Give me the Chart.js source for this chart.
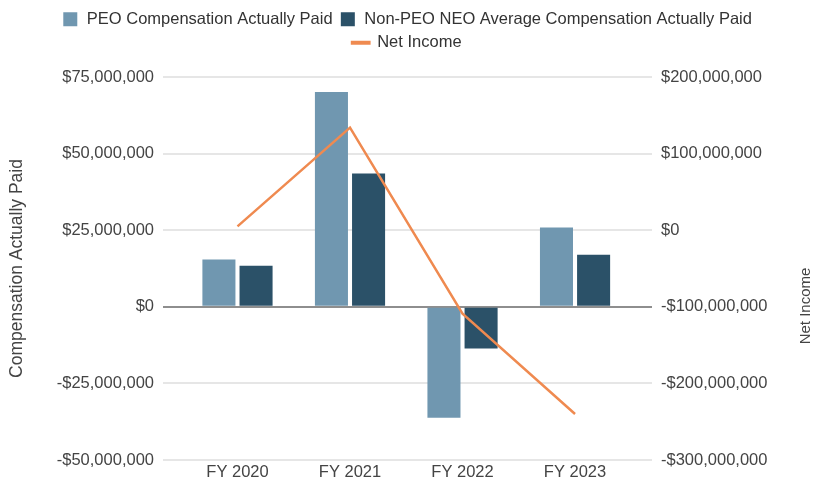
<!DOCTYPE html>
<html>
<head>
<meta charset="utf-8">
<script src="https://cdn.jsdelivr.net/npm/chart.js@4/dist/chart.umd.min.js"></script>
<style>
  html, body { margin: 0; padding: 0; background: #ffffff; }
  #wrap { width: 814px; height: 489px; }
</style>
</head>
<body>
<div id="wrap"><canvas id="c" width="814" height="489"></canvas></div>
<script>
const categories = ['FY 2020', 'FY 2021', 'FY 2022', 'FY 2023'];
const peoCompensation = [15400000, 70100000, -36200000, 25900000];
const neoCompensation = [13400000, 43500000, -13600000, 17000000];
const netIncome = [5000000, 134000000, -109000000, -240000000];
const leftTicks = [-50000000, -25000000, 0, 25000000, 50000000, 75000000];
const rightTicks = [-300000000, -200000000, -100000000, 0, 100000000, 200000000];

const FONT = "'Liberation Sans', Arial, sans-serif";
const TEXT = '#444444';

function money(v) {
  const s = Math.abs(v).toLocaleString('en-US');
  return (v < 0 ? '-$' : '$') + s;
}

const rightTitle = {
  id: 'rightTitle',
  afterDraw(chart) {
    const ctx = chart.ctx;
    ctx.save();
    ctx.translate(806, 306);
    ctx.rotate(-Math.PI / 2);
    ctx.font = '15px ' + FONT;
    ctx.fillStyle = TEXT;
    ctx.textAlign = 'center';
    ctx.textBaseline = 'middle';
    ctx.fillText('Net Income', 0, 0);
    ctx.restore();
  }
};

new Chart(document.getElementById('c'), {
  data: {
    labels: categories,
    datasets: [
      { type: 'line', label: 'Net Income', data: netIncome, yAxisID: 'y2',
        borderColor: '#ef8a50', backgroundColor: '#ef8a50', borderWidth: 2.5,
        pointRadius: 0, tension: 0, order: 0 },
      { type: 'bar', label: 'PEO Compensation Actually Paid', data: peoCompensation, yAxisID: 'y',
        backgroundColor: '#7097b0', barPercentage: 0.89, categoryPercentage: 0.66, order: 1 },
      { type: 'bar', label: 'Non-PEO NEO Average Compensation Actually Paid', data: neoCompensation, yAxisID: 'y',
        backgroundColor: '#2b5168', barPercentage: 0.89, categoryPercentage: 0.66, order: 1 }
    ]
  },
  options: {
    responsive: false,
    animation: false,
    devicePixelRatio: 1,
    layout: { padding: { top: 4, right: 0, bottom: 0, left: 0 } },
    plugins: {
      tooltip: { enabled: false },
      legend: {
        position: 'top',
        labels: {
          font: { family: FONT, size: 16.5 },
          color: '#333333',
          usePointStyle: true,
          boxHeight: 14,
          padding: 7,
          generateLabels(chart) {
            const ds = chart.data.datasets;
            return [1, 2, 0].map(i => ({
              text: ds[i].label,
              fillStyle: ds[i].backgroundColor,
              strokeStyle: ds[i].type === 'line' ? ds[i].borderColor : ds[i].backgroundColor,
              lineWidth: ds[i].type === 'line' ? 4 : 0,
              pointStyle: ds[i].type === 'line' ? 'line' : 'rect',
              datasetIndex: i,
              hidden: false,
              fontColor: '#333333'
            }));
          }
        }
      },
      subtitle: { display: true, text: '', position: 'top', weight: 500, padding: { top: 0, bottom: 4 }, font: { size: 10 } }
    },
    scales: {
      x: {
        type: 'category',
        offset: true,
        grid: { display: false, drawTicks: false },
        border: { display: false },
        ticks: { font: { family: FONT, size: 16.5 }, color: TEXT, padding: 3, maxRotation: 0 },
        afterBuildTicks(scale) {
          scale._startValue = -0.5 - 0.162;
          scale._valueRange = categories.length + 0.162 + 0.184;
        },
        afterFit(scale) { scale.height = 29; }
      },
      y: {
        type: 'linear',
        position: 'left',
        min: leftTicks[0],
        max: leftTicks[leftTicks.length - 1],
        afterBuildTicks(scale) { scale.ticks = leftTicks.map(v => ({ value: v })); },
        grid: {
          drawTicks: false,
          color: c => (c.tick && c.tick.value === 0 ? '#8e8e8e' : '#e6e6e6'),
          lineWidth: 2
        },
        border: { display: false },
        ticks: { font: { family: FONT, size: 16.5 }, color: TEXT, padding: 9, callback: v => money(v) },
        title: { display: true, text: 'Compensation Actually Paid', font: { family: FONT, size: 17.5 }, color: TEXT, padding: { top: 7, bottom: 0 } },
        afterFit(scale) { scale.width = 163; }
      },
      y2: {
        type: 'linear',
        position: 'right',
        min: rightTicks[0],
        max: rightTicks[rightTicks.length - 1],
        afterBuildTicks(scale) { scale.ticks = rightTicks.map(v => ({ value: v })); },
        grid: { display: false, drawTicks: false },
        border: { display: false },
        ticks: { font: { family: FONT, size: 16.5 }, color: TEXT, padding: 9, callback: v => money(v) },
        afterFit(scale) { scale.width = 162; }
      }
    }
  },
  plugins: [rightTitle]
});
</script>
</body>
</html>
